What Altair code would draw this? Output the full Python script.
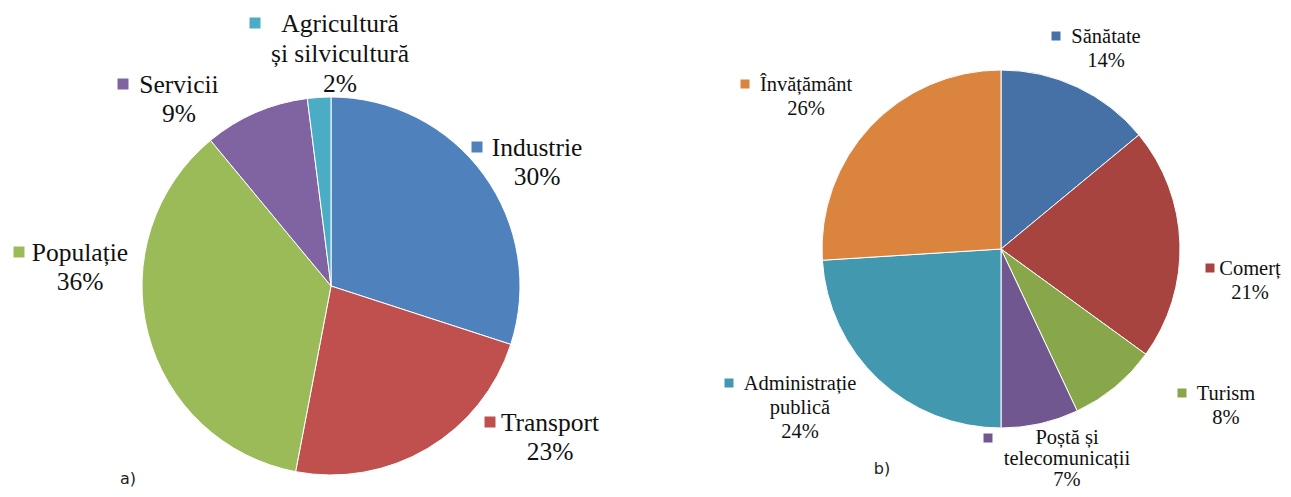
import altair as alt
import pandas as pd

# ---------------- data ----------------
a_names = ["Industrie", "Transport", "Populație", "Servicii", "Agricultură și silvicultură"]
a_values = [30, 23, 36, 9, 2]
a_lines = [["Industrie"], ["Transport"], ["Populație"], ["Servicii"], ["Agricultură", "și silvicultură"]]

b_names = ["Sănătate", "Comerț", "Turism", "Poștă și telecomunicații", "Administrație publică", "Învățământ"]
b_values = [14, 21, 8, 7, 24, 26]
b_lines = [["Sănătate"], ["Comerț"], ["Turism"], ["Poștă și", "telecomunicații"], ["Administrație", "publică"], ["Învățământ"]]

panel_tags = ["a)", "b)"]

# ---------------- styles / layout ----------------
a_colors = ["#4F81BD", "#C0504D", "#9BBB59", "#8064A2", "#4BACC6"]
b_colors = ["#4571A7", "#A8443F", "#88A64A", "#71578F", "#4298AF", "#DB843D"]

M = 8  # page margin
A_CENTER, A_R = (331, 286), 189
B_CENTER, B_R = (1001, 249), 179

# label anchor: text centre x, first baseline y ; key square centre
a_text_pos = [(537, 156), (550, 431), (80, 261), (179, 93), (340, 32)]
a_key_pos = [(477, 147), (490, 422), (19, 252), (123, 84), (255, 23)]
a_line_heights = [29, 29, 29, 29, 30]
b_text_pos = [(1106, 43), (1250, 275), (1226, 400), (1067, 444), (800, 390), (806, 91)]
b_key_pos = [(1056, 36), (1210, 268), (1182, 393), (988, 438), (729, 383), (745, 84)]
b_line_heights = [24, 24, 24, 21, 24, 24]
tag_pos = [(128, 484), (882, 474)]

FONT = "Liberation Serif"


def pie(names, values, lines, colors, center, radius, text_pos, key_pos,
        fsize, lheights, ksize):
    df = pd.DataFrame({
        "name": names,
        "value": values,
        "idx": list(range(len(names))),
        "label": ["\n".join(l + [f"{v}%"]) for l, v in zip(lines, values)],
        "tx": [p[0] - M for p in text_pos],
        "ty": [p[1] - M for p in text_pos],
        "kx": [p[0] - M for p in key_pos],
        "ky": [p[1] - M for p in key_pos],
        "lh": lheights,
    })
    color = alt.Color("name:N", scale=alt.Scale(domain=names, range=colors), legend=None)
    base = alt.Chart(df)
    arcs = base.mark_arc(radius=radius, stroke="white", strokeWidth=1).encode(
        theta=alt.Theta("value:Q", stack=True),
        color=color,
        order=alt.Order("idx:Q"),
        x=alt.value(center[0] - M),
        y=alt.value(center[1] - M),
    )
    keys = base.mark_square(size=ksize, opacity=1, filled=True).encode(
        x=alt.X("kx:Q", scale=None),
        y=alt.Y("ky:Q", scale=None),
        color=color,
    )
    layers = [arcs, keys]
    for lh in sorted(set(lheights)):
        layers.append(
            base.transform_filter(alt.datum.lh == lh).mark_text(
                font=FONT, fontSize=fsize, lineHeight=lh, lineBreak="\n",
                align="center", baseline="alphabetic", color="#111111",
            ).encode(
                x=alt.X("tx:Q", scale=None),
                y=alt.Y("ty:Q", scale=None),
                text="label:N",
            )
        )
    return alt.layer(*layers)


pie_a = pie(a_names, a_values, a_lines, a_colors, A_CENTER, A_R, a_text_pos, a_key_pos,
            25.5, a_line_heights, 121)
pie_b = pie(b_names, b_values, b_lines, b_colors, B_CENTER, B_R, b_text_pos, b_key_pos,
            20.5, b_line_heights, 81)

tags_df = pd.DataFrame({
    "tag": panel_tags,
    "x": [p[0] - M for p in tag_pos],
    "y": [p[1] - M for p in tag_pos],
})
tags = alt.Chart(tags_df).mark_text(
    font="DejaVu Sans", fontSize=16, align="center", baseline="alphabetic", color="#222222"
).encode(x=alt.X("x:Q", scale=None), y=alt.Y("y:Q", scale=None), text="tag:N")

chart = alt.layer(pie_a, pie_b, tags).resolve_scale(
    color="independent", theta="independent"
).properties(
    width=1275, height=481, autosize="none", padding=0, background="white"
).configure_view(stroke=None)

chart.save("out.html", embed_options={"renderer": "svg", "actions": False})
